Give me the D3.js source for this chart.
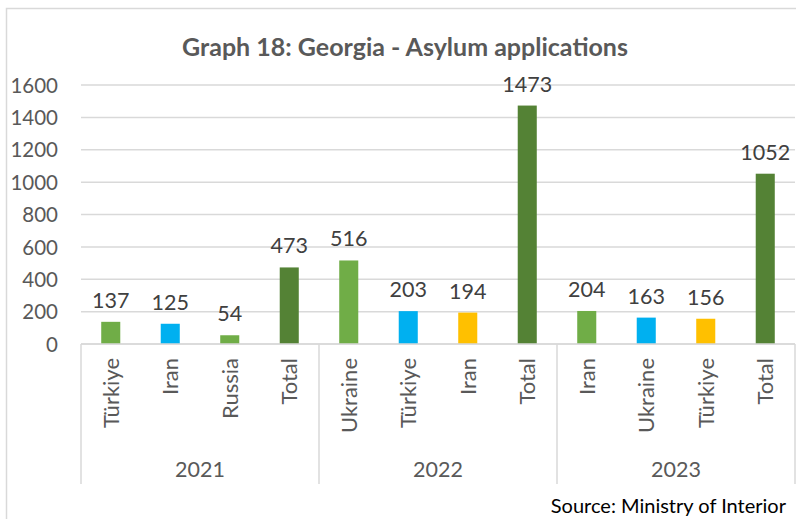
<!DOCTYPE html>
<html><head><meta charset="utf-8">
<script src="https://cdn.jsdelivr.net/npm/d3@7"></script>
<style>
body{margin:0;background:#fff;}
svg{display:block;font-family:Lato,"Open Sans",sans-serif;}
</style></head>
<body>
<svg id="c" width="796" height="519"></svg>
<script>
const years = ["2021","2022","2023"];
const countries = [
  ["Türkiye","Iran","Russia","Total"],
  ["Ukraine","Türkiye","Iran","Total"],
  ["Iran","Ukraine","Türkiye","Total"]
];
const values = [
  [137,125,54,473],
  [516,203,194,1473],
  [204,163,156,1052]
];
const yTicks = [0,200,400,600,800,1000,1200,1400,1600];
const slotColors = ["#70AD47","#00B0F0","#FFC000","#548235"];
const slotColors2021 = ["#70AD47","#00B0F0","#70AD47","#548235"];

(function(){
const svg = d3.select("#c");
const pLeft = 81, pRight = 795, pTop = 85, pBottom = 344;

svg.append("rect").attr("x",6.5).attr("y",8.5).attr("width",800).attr("height",520)
  .attr("fill","none").attr("stroke","#d9d9d9").attr("stroke-width",1.5);

const rows = [];
years.forEach((yr,gi)=>countries[gi].forEach((c,ci)=>rows.push({year:yr,country:c,value:values[gi][ci],gi,ci,key:yr+"-"+ci})));

const x = d3.scaleBand().domain(rows.map(d=>d.key)).range([pLeft,pRight]).paddingInner(0.68).paddingOuter(0.34);
const y = d3.scaleLinear().domain([0,1600]).range([pBottom,pTop]);

svg.append("g").selectAll("line").data(yTicks).join("line")
  .attr("x1",pLeft).attr("x2",pRight).attr("y1",d=>y(d)).attr("y2",d=>y(d))
  .attr("stroke","#d9d9d9").attr("stroke-width",1.5);

const yAxis = d3.axisLeft(y).tickValues(yTicks).tickSize(0).tickPadding(0).tickFormat(d3.format("d"));
const ya = svg.append("g").attr("transform",`translate(58,0)`).call(yAxis);
ya.select(".domain").remove();
ya.selectAll("text").attr("fill","#595959").attr("font-size",20.5).attr("font-family","Lato,'Open Sans',sans-serif").attr("dy","0.35em");

svg.append("g").selectAll("rect").data(rows).join("rect")
  .attr("x",d=>x(d.key)).attr("width",x.bandwidth())
  .attr("y",d=>y(d.value)).attr("height",d=>y(0)-y(d.value))
  .attr("fill",d=>d.gi===0?slotColors2021[d.ci]:slotColors[d.ci]);

svg.append("g").selectAll("text").data(rows).join("text")
  .attr("x",d=>x(d.key)+x.bandwidth()/2).attr("y",d=>y(d.value)-14)
  .attr("text-anchor","middle").attr("font-size",21.5).attr("fill","#404040")
  .text(d=>d.value);

const groupW = (pRight-pLeft)/3;
svg.append("line").attr("x1",pLeft).attr("x2",pRight).attr("y1",pBottom).attr("y2",pBottom)
  .attr("stroke","#d9d9d9").attr("stroke-width",1.5);
svg.append("g").selectAll("line").data([0,1,2,3]).join("line")
  .attr("x1",d=>pLeft+d*groupW).attr("x2",d=>pLeft+d*groupW)
  .attr("y1",pBottom).attr("y2",484).attr("stroke","#d9d9d9").attr("stroke-width",1.5);

svg.append("g").selectAll("text").data(rows).join("text")
  .attr("transform",d=>`translate(${x(d.key)+x.bandwidth()/2+8},358) rotate(-90)`)
  .attr("text-anchor","end").attr("font-size",22).attr("fill","#595959")
  .text(d=>d.country);

svg.append("g").selectAll("text").data(years).join("text")
  .attr("x",(d,i)=>pLeft+groupW*(i+0.5)).attr("y",477)
  .attr("text-anchor","middle").attr("font-size",21.5).attr("fill","#595959")
  .text(d=>d);

svg.append("text").attr("x",405).attr("y",56).attr("text-anchor","middle")
  .attr("font-size",25).attr("font-weight","bold").attr("fill","#595959")
  .text("Graph 18: Georgia - Asylum applications");

svg.append("text").attr("x",786).attr("y",513).attr("text-anchor","end")
  .attr("font-size",20).attr("fill","#000")
  .text("Source: Ministry of Interior");
})();
</script>
</body></html>
